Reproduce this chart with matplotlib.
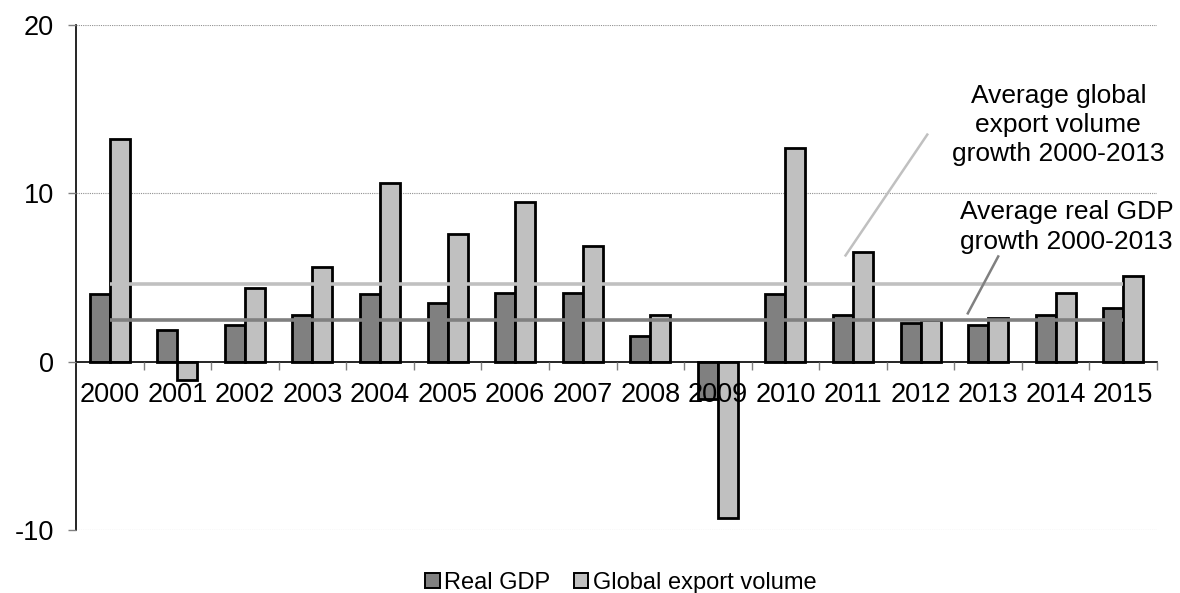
import matplotlib
matplotlib.use("Agg")
import matplotlib.pyplot as plt
from matplotlib.patches import Patch
from matplotlib.ticker import FixedLocator, NullFormatter
import numpy as np

plt.rcParams['font.family'] = ['Liberation Sans', 'DejaVu Sans']

years = [str(y) for y in range(2000, 2016)]
real_gdp = [4.0, 1.9, 2.2, 2.8, 4.0, 3.5, 4.1, 4.1, 1.5, -2.2, 4.0, 2.8, 2.3, 2.2, 2.8, 3.2]
export_volume = [13.2, -1.1, 4.4, 5.6, 10.6, 7.6, 9.5, 6.9, 2.8, -9.3, 12.7, 6.5, 2.5, 2.6, 4.1, 5.1]
avg_gdp_growth = 2.5
avg_export_growth = 4.6
y_ticks = [-10, 0, 10, 20]

dark = '#808080'
light = '#C0C0C0'

fig = plt.figure(figsize=(11.8, 5.93), dpi=100)
ax = fig.add_axes([76 / 1180, 1 - 530 / 593, (1157 - 76) / 1180, (530 - 25) / 593])
ax.set_axisbelow(False)

x = np.arange(len(years))
w = 0.296
ax.bar(x - w / 2, real_gdp, width=w, color=dark, edgecolor='black', linewidth=2.0, zorder=1)
ax.bar(x + w / 2, export_volume, width=w, color=light, edgecolor='black', linewidth=2.0, zorder=1)

# average growth lines across the categories
ax.plot([x[0], x[-1]], [avg_export_growth, avg_export_growth], color=light, lw=2.6, zorder=1.2,
        solid_capstyle='butt')
ax.plot([x[0], x[-1]], [avg_gdp_growth, avg_gdp_growth], color=dark, lw=2.6, zorder=1.2,
        solid_capstyle='butt')

# leader lines and labels
ax.plot([10.89, 12.10], [6.31, 13.49], color=light, lw=1.8, zorder=1.2)
ax.plot([12.70, 13.15], [2.87, 6.25], color=dark, lw=1.8, zorder=1.2)
ax.text(14.04, 14.07, 'Average global\nexport volume\ngrowth 2000-2013', ha='center', va='center',
        fontsize=19, linespacing=1.27)
ax.text(14.16, 8.0, 'Average real GDP\ngrowth 2000-2013', ha='center', va='center',
        fontsize=19, linespacing=1.27)

ax.set_xlim(-0.5, len(years) - 0.5)
ax.set_ylim(-10, 20)

# axes styling
for s in ('top', 'right'):
    ax.spines[s].set_visible(False)
ax.spines['bottom'].set_position(('data', 0))
ax.spines['bottom'].set_linewidth(1.2)
ax.spines['left'].set_linewidth(1.2)

ax.set_yticks(y_ticks)
ax.set_yticklabels([str(v) for v in y_ticks])
ax.tick_params(axis='y', length=6, width=1, color='#808080', pad=10, labelsize=19.5)
for yv in [-10, 10, 20]:
    ax.axhline(yv, color='#909090', lw=0.8, linestyle=(0, (1, 1)), zorder=0)

ax.set_xticks(x)
ax.set_xticklabels(years)
ax.xaxis.set_minor_locator(FixedLocator(np.arange(0.5, len(years), 1.0)))
ax.xaxis.set_minor_formatter(NullFormatter())
ax.tick_params(axis='x', which='major', length=0, pad=15, labelsize=19.5)
ax.tick_params(axis='x', which='minor', length=6, width=1, color='#808080', direction='out')

handles = [Patch(facecolor=dark, edgecolor='black', linewidth=1.4, label='Real GDP'),
           Patch(facecolor=light, edgecolor='black', linewidth=1.4, label='Global export volume')]
fig.legend(handles=handles, loc='center', bbox_to_anchor=(621 / 1180, 1 - 583 / 593), ncol=2,
           frameon=False, fontsize=17, handlelength=0.6, handleheight=0.6, handletextpad=0.2,
           columnspacing=1.0, borderaxespad=0, borderpad=0)

fig.savefig('out.png', dpi=100)
